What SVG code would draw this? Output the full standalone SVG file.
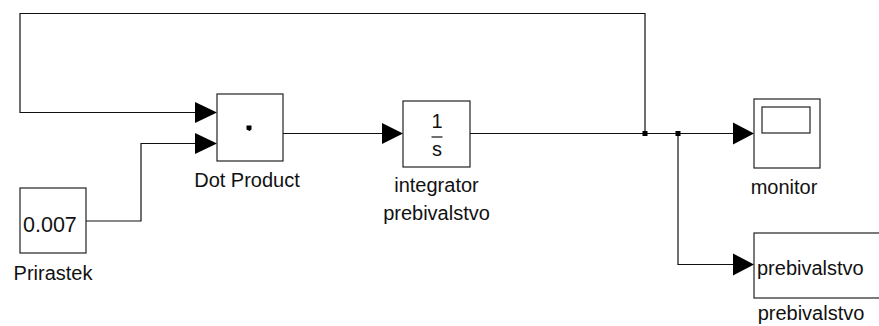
<svg xmlns="http://www.w3.org/2000/svg" width="879" height="326" viewBox="0 0 879 326">
  <style>
    .blk { fill: #ffffff; stroke: #222222; stroke-width: 1.2; }
    .wire { fill: none; stroke: #111111; stroke-width: 1.2; }
    .head { fill: #000000; }
    .lbl { font-family: "Liberation Sans", Arial, sans-serif; font-size: 20px; fill: #111111; }
    .mid { text-anchor: middle; }
  </style>
  <rect width="879" height="326" fill="#ffffff"/>

  <!-- signal lines -->
  <g id="connectors">
    <polyline class="wire" points="86,221 141,221 141,143.5 196,143.5"/>
    <polygon class="head" points="195,133 217,143.5 195,154"/>

    <polyline class="wire" points="645,133.5 645,13.5 20,13.5 20,112.5 196,112.5"/>
    <polygon class="head" points="195,102 217,112.5 195,123"/>

    <line class="wire" x1="283" y1="133.5" x2="383" y2="133.5"/>
    <polygon class="head" points="382,123 403,133.5 382,144"/>

    <line class="wire" x1="470" y1="133.5" x2="734" y2="133.5"/>
    <polygon class="head" points="733,122.5 754,133.5 733,144.5"/>

    <polyline class="wire" points="678,133.5 678,264.5 734,264.5"/>
    <polygon class="head" points="733,253.5 754,264.5 733,275.5"/>

    <rect x="642.5" y="131" width="5" height="5" fill="#000"/>
    <rect x="675.5" y="131" width="5" height="5" fill="#000"/>
  </g>

  <!-- constant source -->
  <g id="prirastek">
    <rect class="blk" x="20" y="188" width="66" height="65"/>
    <text class="lbl" x="23" y="232" style="font-size:21.5px">0.007</text>
    <text class="lbl mid" x="53" y="280">Prirastek</text>
  </g>

  <!-- dot product -->
  <g id="dot-product">
    <rect class="blk" x="217" y="94" width="66" height="67"/>
    <polygon points="246.5,125.5 251.5,125.5 251.5,129.5 249.5,131 246.5,129.5" fill="#000"/>
    <text class="lbl mid" x="247" y="187">Dot Product</text>
  </g>

  <!-- integrator 1/s -->
  <g id="integrator">
    <rect class="blk" x="403" y="101" width="67" height="66"/>
    <text class="lbl mid" x="437" y="128" style="font-size:20px">1</text>
    <line x1="431.5" y1="137" x2="442.5" y2="137" stroke="#111" stroke-width="1.2"/>
    <text class="lbl mid" x="437" y="156" style="font-size:20px">s</text>
    <text class="lbl mid" x="436.5" y="192">integrator</text>
    <text class="lbl mid" x="436.5" y="220">prebivalstvo</text>
  </g>

  <!-- scope -->
  <g id="monitor">
    <rect class="blk" x="754" y="99" width="66" height="69"/>
    <rect class="blk" x="762" y="107" width="48" height="26"/>
    <text class="lbl mid" x="784" y="194">monitor</text>
  </g>

  <!-- workspace sink -->
  <g id="prebivalstvo">
    <rect class="blk" x="754" y="233" width="140" height="65"/>
    <text class="lbl" x="757" y="275">prebivalstvo</text>
    <text class="lbl mid" x="811" y="320">prebivalstvo</text>
  </g>
</svg>
